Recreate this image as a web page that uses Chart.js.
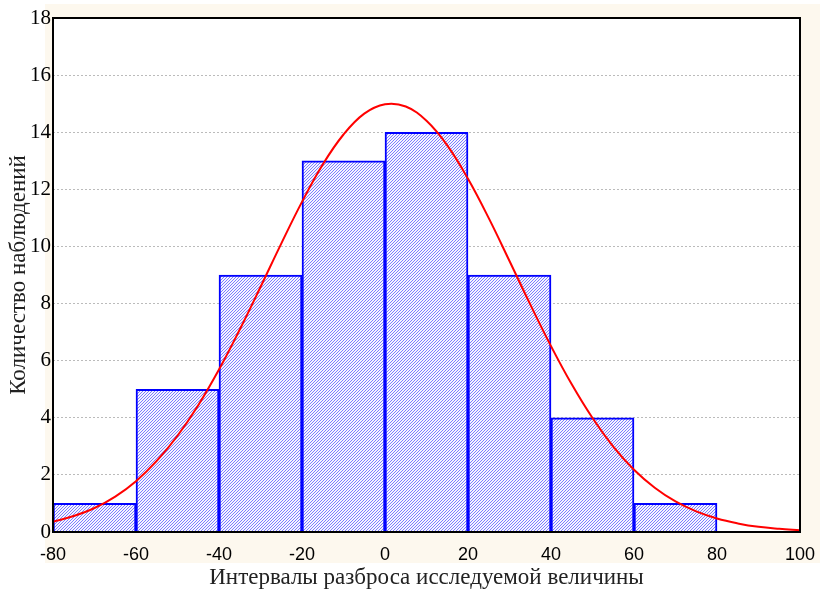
<!DOCTYPE html>
<html>
<head>
<meta charset="utf-8">
<script src="https://cdn.jsdelivr.net/npm/chart.js@4.4.0/dist/chart.umd.min.js"></script>
<style>
  html, body { margin: 0; padding: 0; background: #fff; }
</style>
</head>
<body>
<canvas id="myChart" width="820" height="592"></canvas>
<script>
// Интервалы (центры) и частоты
const binCenters = [-70, -50, -30, -10, 10, 30, 50, 70];
const counts = [1, 5, 9, 13, 14, 9, 4, 1];

// Кривая нормального распределения
const curveX = [-80, -75, -70, -65, -60, -55, -50, -45, -40, -35, -30, -25, -20, -15, -10, -5, 0, 5, 10, 15, 20, 25, 30, 35, 40, 45, 50, 55, 60, 65, 70, 75, 80, 85, 90, 95, 100];
const curveY = [0.36, 0.56, 0.84, 1.24, 1.78, 2.49, 3.37, 4.44, 5.69, 7.09, 8.58, 10.1, 11.56, 12.87, 13.92, 14.65, 14.98, 14.9, 14.4, 13.54, 12.37, 10.99, 9.49, 7.97, 6.51, 5.17, 3.99, 2.99, 2.18, 1.55, 1.07, 0.72, 0.47, 0.3, 0.18, 0.11, 0.06];

const xTicks = [-80, -60, -40, -20, 0, 20, 40, 60, 80, 100];

// Штриховка столбцов
function makeHatch() {
    const c = document.createElement('canvas');
    c.width = 3; c.height = 3;
    const g = c.getContext('2d');
    g.fillStyle = '#f4f4ff';
    g.fillRect(0, 0, 3, 3);
    g.fillStyle = '#7c7cff';
    g.fillRect(2, 0, 1, 1);
    g.fillRect(1, 1, 1, 1);
    g.fillRect(0, 2, 1, 1);
    return g.createPattern(c, 'repeat');
}

const bgPlugin = {
    id: 'bg',
    beforeDraw(chart) {
        const ctx = chart.ctx;
        ctx.save();
        ctx.fillStyle = '#fdf8ee';
        ctx.fillRect(45, 4, 775, 559);
        const a = chart.chartArea;
        ctx.fillStyle = '#ffffff';
        ctx.fillRect(a.left, a.top, a.right - a.left, a.bottom - a.top);
        ctx.restore();
    },
    afterDraw(chart) {
        const ctx = chart.ctx;
        const a = chart.chartArea;
        ctx.save();
        ctx.strokeStyle = '#000';
        ctx.lineWidth = 2;
        ctx.strokeRect(a.left, a.top, a.right - a.left, a.bottom - a.top);
        ctx.restore();
    }
};

const data = {
    datasets: [{
        type: 'line',
        data: curveX.map((x, i) => ({ x: x, y: curveY[i] })),
        borderColor: '#ff0000',
        borderWidth: 2,
        pointRadius: 0,
        tension: 0.4,
        order: 0
    }, {
        type: 'bar',
        data: binCenters.map((x, i) => ({ x: x, y: counts[i] })),
        backgroundColor: makeHatch(),
        borderColor: '#0000ff',
        borderWidth: 2,
        borderSkipped: 'bottom',
        barPercentage: 1,
        categoryPercentage: 1,
        order: 1
    }]
};

const config = {
    type: 'bar',
    data: data,
    options: {
        responsive: false,
        animation: false,
        layout: { padding: { top: 18, right: 20, left: 0, bottom: 0 } },
        plugins: {
            legend: { display: false },
            tooltip: { enabled: false }
        },
        scales: {
            x: {
                type: 'linear',
                offset: false,
                min: -80,
                max: 100,
                afterBuildTicks: (s) => { s.ticks = xTicks.map(v => ({ value: v })); },
                grid: { display: false, offset: false },
                border: { display: false },
                ticks: {
                    color: '#000',
                    font: { family: 'Liberation Sans', size: 18 },
                    padding: 4,
                    maxRotation: 0
                },
                title: {
                    display: true,
                    text: 'Интервалы разброса исследуемой величины',
                    color: '#222',
                    font: { family: 'Liberation Serif', size: 23 },
                    padding: { top: 0, bottom: 0 }
                },
                afterFit: (s) => { s.height = 60; s.paddingLeft = 0; s.paddingRight = 0; }
            },
            y: {
                min: 0,
                max: 18,
                ticks: {
                    stepSize: 2,
                    color: '#000',
                    font: { family: 'Liberation Serif', size: 21 },
                    padding: 2
                },
                grid: {
                    color: '#bbbbbb',
                    lineWidth: 1,
                    drawTicks: false
                },
                border: { display: false, dash: [2, 2] },
                title: {
                    display: true,
                    text: 'Количество наблюдений',
                    color: '#222',
                    font: { family: 'Liberation Serif', size: 23 },
                    padding: { top: 5, bottom: 0 }
                },
                afterFit: (s) => { s.width = 53; }
            }
        }
    },
    plugins: [bgPlugin]
};

const ctx = document.getElementById('myChart').getContext('2d');
new Chart(ctx, config);
</script>
</body>
</html>
